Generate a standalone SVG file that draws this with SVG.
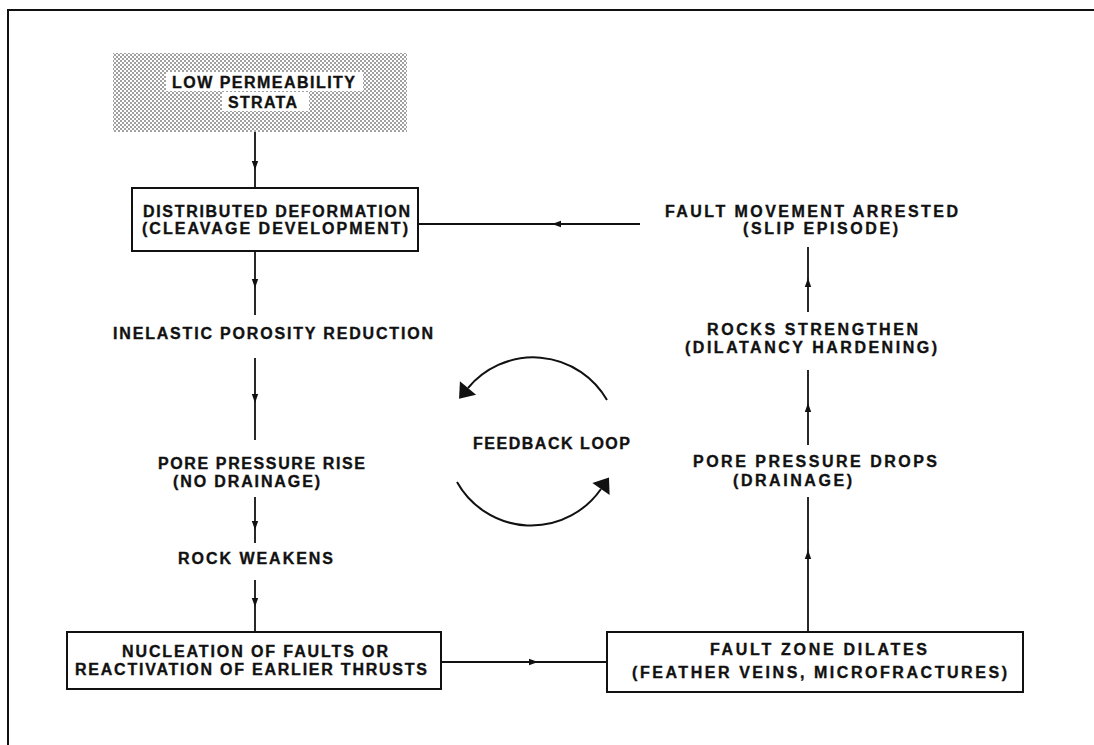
<svg xmlns="http://www.w3.org/2000/svg" width="1094" height="745" viewBox="0 0 1094 745">
<defs>
<pattern id="stip" width="4" height="4" patternUnits="userSpaceOnUse">
<rect width="4" height="4" fill="#ffffff"/>
<circle cx="1" cy="1" r="0.8" fill="#2a2a2a"/>
<circle cx="3" cy="3" r="0.8" fill="#2a2a2a"/>
</pattern>
<marker id="arr" markerUnits="userSpaceOnUse" markerWidth="10" markerHeight="8" refX="9" refY="4" orient="auto" overflow="visible">
<path d="M0,0.8 L9,4 L0,7.2 z" fill="#111"/>
</marker>
<marker id="big" markerUnits="userSpaceOnUse" markerWidth="16" markerHeight="22" refX="0" refY="10.5" orient="auto" overflow="visible">
<path d="M0,0 L14,10.5 L0,21 z" fill="#111"/>
</marker>
</defs>
<style>
text{font-family:"Liberation Sans",Arial,Helvetica,sans-serif;font-weight:bold;font-size:16px;fill:#111;stroke:#111;stroke-width:0.35}
.box{fill:#fff;stroke:#111;stroke-width:2}
.ln{fill:none;stroke:#111;stroke-width:1.8}
.mid{marker-mid:url(#arr)}
.arc{fill:none;stroke:#111;stroke-width:2;marker-end:url(#big)}
</style>
<rect width="1094" height="745" fill="#fff"/>
<g id="frame">
<path d="M8,746 L8,10 L1095,10" fill="none" stroke="#111" stroke-width="2"/>
</g>
<g id="connectors">
<path class="ln mid" d="M255,131 L255,170 L255,188"/>
<path class="ln mid" d="M255,251 L255,288 L255,315"/>
<path class="ln mid" d="M255,358 L255,403 L255,440"/>
<path class="ln mid" d="M255,497 L255,530 L255,543"/>
<path class="ln mid" d="M255,580 L255,607 L255,632"/>
<path class="ln mid" d="M441,662 L538,662 L607,662"/>
<path class="ln mid" d="M808,632 L808,550 L808,497"/>
<path class="ln mid" d="M808,445 L808,403 L808,370"/>
<path class="ln mid" d="M808,312 L808,278 L808,247"/>
<path class="ln mid" d="M640,224 L552,224 L418,224"/>
<path class="arc" d="M607,400 A85,85 0 0 0 468,388"/>
<path class="arc" d="M457,482 A85,85 0 0 0 601,489"/>
</g>
<g id="low-permeability">
<rect x="113" y="53" width="294" height="79" fill="url(#stip)"/>
<rect x="166" y="72" width="197" height="19" fill="#fff"/>
<rect x="222" y="92" width="87" height="19" fill="#fff"/>
<text x="172" y="88" textLength="183">LOW PERMEABILITY</text>
<text x="228" y="108" textLength="69">STRATA</text>
</g>
<g id="distributed-deformation">
<rect class="box" x="132" y="188" width="286" height="63"/>
<text x="143" y="217" textLength="267">DISTRIBUTED DEFORMATION</text>
<text x="142" y="234" textLength="266">(CLEAVAGE DEVELOPMENT)</text>
</g>
<g id="inelastic">
<text x="113" y="339" textLength="320">INELASTIC POROSITY REDUCTION</text>
</g>
<g id="pore-rise">
<text x="158" y="469" textLength="207">PORE PRESSURE RISE</text>
<text x="173" y="487" textLength="147">(NO DRAINAGE)</text>
</g>
<g id="rock-weakens">
<text x="178" y="564" textLength="155">ROCK WEAKENS</text>
</g>
<g id="nucleation">
<rect class="box" x="67" y="632" width="374" height="57"/>
<text x="122" y="657" textLength="266">NUCLEATION OF FAULTS OR</text>
<text x="75" y="675" textLength="352">REACTIVATION OF EARLIER THRUSTS</text>
</g>
<g id="fault-zone">
<rect class="box" x="607" y="632" width="416" height="60"/>
<text x="710" y="655" textLength="217">FAULT ZONE DILATES</text>
<text x="632" y="678" textLength="375">(FEATHER VEINS, MICROFRACTURES)</text>
</g>
<g id="pore-drops">
<text x="693" y="467" textLength="244">PORE PRESSURE DROPS</text>
<text x="733" y="486" textLength="119">(DRAINAGE)</text>
</g>
<g id="rocks-strengthen">
<text x="707" y="335" textLength="211">ROCKS STRENGTHEN</text>
<text x="685" y="353" textLength="252">(DILATANCY HARDENING)</text>
</g>
<g id="fault-arrested">
<text x="665" y="217" textLength="293">FAULT MOVEMENT ARRESTED</text>
<text x="743" y="234" textLength="155">(SLIP EPISODE)</text>
</g>
<g id="feedback">
<text x="473" y="449" textLength="157">FEEDBACK LOOP</text>
</g>
</svg>
